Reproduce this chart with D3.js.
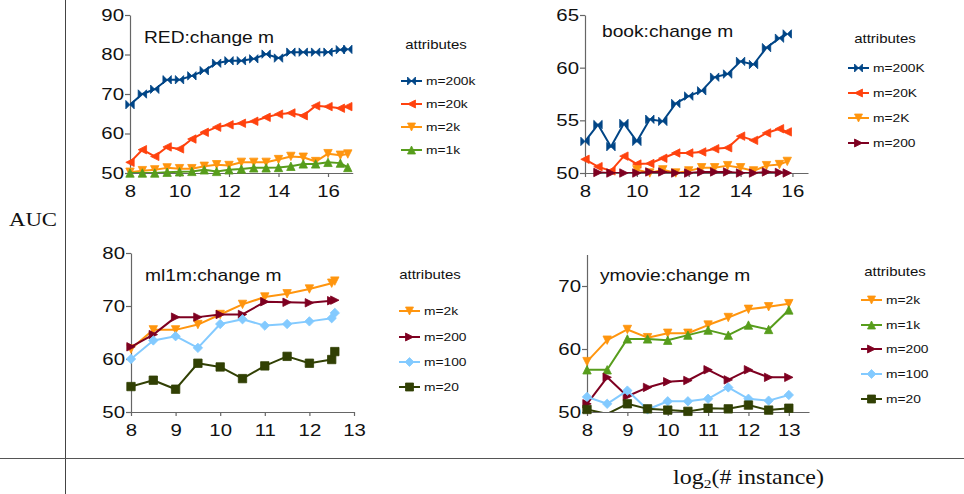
<!DOCTYPE html>
<html lang="en">
<head>
    <meta charset="UTF-8">
    <title>AUC change m</title>
    <script src="https://d3js.org/d3.v7.min.js"></script>
    <style>
    html, body { margin:0; padding:0; background:#fff; }
    .axis path, .axis line { stroke:#666; stroke-width:1.2; }
    .axis text { font-family:"Liberation Sans", Arial, sans-serif; font-size:17px; fill:#111; }
    .series { fill:none; stroke-width:2; stroke-linejoin:round; }
    </style>
</head>
<body>
<div id="chart"></div>
<script>

    // x positions (log2 # instance)
    var redX = [8, 8.5, 9, 9.5, 10, 10.5, 11, 11.5, 12, 12.5, 13, 13.5, 14, 14.5, 15, 15.5, 16, 16.5, 16.8];
    var bookX = [8, 8.5, 9, 9.5, 10, 10.5, 11, 11.5, 12, 12.5, 13, 13.5, 14, 14.5, 15, 15.5, 15.8];
    var ml1mX = [8, 8.5, 9, 9.5, 10, 10.5, 11, 11.5, 12, 12.5, 12.57];
    var ymovieX = [8, 8.5, 9, 9.5, 10, 10.5, 11, 11.5, 12, 12.5, 13];

    // RED
    var red200k = [67.3, 70.0, 71.2, 73.6, 73.6, 74.6, 75.9, 77.8, 78.4, 78.4, 78.9, 80.1, 79.1, 80.6, 80.6, 80.6, 80.6, 81.2, 81.3];
    var red20k  = [52.7, 55.9, 54.2, 56.6, 56.1, 58.6, 60.3, 61.6, 62.2, 62.6, 63.1, 64.1, 64.9, 65.2, 64.5, 67.0, 66.8, 66.4, 66.8];
    var red2k   = [50.2, 50.6, 50.8, 51.3, 51.1, 51.1, 51.7, 52.1, 51.9, 52.7, 52.7, 52.7, 53.4, 54.2, 54.0, 52.9, 54.9, 54.5, 54.8];
    var red1k   = [50.0, 50.0, 50.0, 50.2, 50.3, 50.4, 50.8, 50.4, 50.8, 51.0, 51.3, 51.3, 51.4, 51.7, 52.3, 52.3, 52.7, 52.5, 51.4];

    // book
    var book200K = [53.0, 54.6, 52.5, 54.7, 53.0, 55.1, 54.9, 56.6, 57.3, 57.8, 59.1, 59.4, 60.6, 60.3, 61.9, 62.8, 63.2];
    var book20K  = [51.3, 50.6, 50.2, 51.6, 50.85, 50.9, 51.4, 51.9, 51.9, 52.0, 52.3, 52.4, 53.5, 53.1, 53.8, 54.2, 53.9];
    var book2K   = [null, null, null, null, 50.3, 50.0, 50.3, 50.0, 50.2, 50.5, 50.5, 50.7, 50.5, 50.2, 50.7, 50.8, 51.1];
    var book200  = [null, 50.05, 50.0, 50.0, 50.0, 50.1, 50.1, 50.0, 50.0, 50.1, 50.1, 50.1, 50.0, 50.0, 50.1, 50.05, 50.0];

    // ml1m
    var ml2k  = [61.9, 65.5, 65.5, 66.5, 68.4, 70.3, 71.7, 72.3, 73.2, 74.3, 74.7];
    var ml200 = [62.3, 64.6, 67.9, 67.9, 68.4, 68.4, 70.8, 70.7, 70.6, 71.0, 71.1];
    var ml100 = [60.0, 63.5, 64.3, 62.1, 66.6, 67.5, 66.3, 66.6, 67.1, 67.7, 68.7];
    var ml20  = [54.8, 56.0, 54.3, 59.2, 58.5, 56.3, 58.7, 60.5, 59.2, 59.9, 61.4];

    // ymovie
    var ym2k  = [58.0, 61.4, 63.1, 61.8, 62.5, 62.5, 63.8, 65.0, 66.3, 66.7, 67.2];
    var ym1k  = [56.7, 56.7, 61.6, 61.6, 61.4, 62.2, 63.0, 62.2, 63.8, 63.1, 66.2];
    var ym200 = [51.3, 55.5, 52.5, 53.9, 54.8, 55.0, 56.7, 55.1, 56.7, 55.5, 55.5];
    var ym100 = [52.4, 51.3, 53.4, 50.4, 51.7, 51.7, 52.1, 53.9, 52.1, 51.8, 52.7];
    var ym20  = [50.4, 49.7, 51.3, 50.5, 50.3, 50.1, 50.6, 50.5, 51.1, 50.3, 50.6];

    var redTicks = [8, 10, 12, 14, 16], bookTicks = [8, 10, 12, 14, 16];
    var mlTicks = [8, 9, 10, 11, 12, 13], ymTicks = [8, 9, 10, 11, 12, 13];

    var width = 964, height = 494;
    var sx = 1.2;   // the source picture is stretched sideways

    var svg = d3.select("#chart").append("svg")
        .attr("width", width)
        .attr("height", height);

    // marker shapes
    function markerPath(type, r) {
        if (type === "bowtie") return "M" + (-r) + "," + (-r) + "L0,0L" + (-r) + "," + r + "ZM" + r + "," + (-r) + "L0,0L" + r + "," + r + "Z";
        if (type === "left") return "M" + (-r) + ",0L" + r + "," + (-r) + "L" + r + "," + r + "Z";
        if (type === "right") return "M" + r + ",0L" + (-r) + "," + (-r) + "L" + (-r) + "," + r + "Z";
        if (type === "down") return "M" + (-r) + "," + (-r) + "L" + r + "," + (-r) + "L0," + r + "Z";
        if (type === "up") return "M0," + (-r) + "L" + r + "," + r + "L" + (-r) + "," + r + "Z";
        if (type === "diamond") return "M0," + (-r - 0.5) + "L" + (r + 0.5) + ",0L0," + (r + 0.5) + "L" + (-r - 0.5) + ",0Z";
        return "M" + (-r) + "," + (-r) + "H" + r + "V" + r + "H" + (-r) + "Z";
    }

    function label(g, x, y, str, size, anchor, family) {
        return g.append("text")
            .attr("transform", "translate(" + x + "," + y + ") scale(" + sx + ",1)")
            .attr("dy", "0.35em")
            .attr("text-anchor", anchor || "start")
            .style("font-family", family || "'Liberation Sans', Arial, sans-serif")
            .style("font-size", size + "px")
            .style("fill", "#111")
            .text(str);
    }

    var panels = [
        {title: "RED:change m", tx: 144, ty: 37, xs: redX, xDom: [8, 17], xRange: [130, 352.75], xTicks: redTicks,
         yDom: [50, 90], yRange: [173, 15], yTicks: [50, 60, 70, 80, 90],
         legend: {tx: 436, ty: 45, lx: 401, rows: [81, 104, 127, 150]},
         series: [
             {name: "m=200k", values: red200k, color: "#004586", shape: "bowtie"},
             {name: "m=20k", values: red20k, color: "#ff420e", shape: "left"},
             {name: "m=2k", values: red2k, color: "#ff950e", shape: "down"},
             {name: "m=1k", values: red1k, color: "#579d1c", shape: "up"}
         ]},
        {title: "book:change m", tx: 602, ty: 31, xs: bookX, xDom: [8, 16.6], xRange: [585, 808], xTicks: bookTicks,
         yDom: [50, 65], yRange: [173, 15], yTicks: [50, 55, 60, 65],
         legend: {tx: 885, ty: 39, lx: 848, rows: [68, 93, 118, 143]},
         series: [
             {name: "m=200K", values: book200K, color: "#004586", shape: "bowtie"},
             {name: "m=20K", values: book20K, color: "#ff420e", shape: "left"},
             {name: "m=2K", values: book2K, color: "#ff950e", shape: "down"},
             {name: "m=200", values: book200, color: "#7e0021", shape: "right"}
         ]},
        {title: "ml1m:change m", tx: 145, ty: 275, xs: ml1mX, xDom: [8, 13], xRange: [131, 354], xTicks: mlTicks,
         yDom: [50, 80], yRange: [412, 253], yTicks: [50, 60, 70, 80],
         legend: {tx: 430, ty: 275, lx: 399, rows: [311, 337, 362, 387]},
         series: [
             {name: "m=2k", values: ml2k, color: "#ff950e", shape: "down"},
             {name: "m=200", values: ml200, color: "#7e0021", shape: "right"},
             {name: "m=100", values: ml100, color: "#83caff", shape: "diamond"},
             {name: "m=20", values: ml20, color: "#314004", shape: "square"}
         ]},
        {title: "ymovie:change m", tx: 600, ty: 275, xs: ymovieX, xDom: [8, 13.5], xRange: [587, 809], xTicks: ymTicks,
         yDom: [50, 75], yRange: [412, 254.5], yTicks: [50, 60, 70],
         legend: {tx: 895, ty: 272, lx: 861, rows: [300, 325, 349, 374, 399]},
         series: [
             {name: "m=2k", values: ym2k, color: "#ff950e", shape: "down"},
             {name: "m=1k", values: ym1k, color: "#579d1c", shape: "up"},
             {name: "m=200", values: ym200, color: "#7e0021", shape: "right"},
             {name: "m=100", values: ym100, color: "#83caff", shape: "diamond"},
             {name: "m=20", values: ym20, color: "#314004", shape: "square"}
         ]}
    ];

    // frame lines
    svg.append("line").attr("x1", 65.5).attr("x2", 65.5).attr("y1", 0).attr("y2", height)
        .attr("stroke", "#444").attr("stroke-width", 1);
    svg.append("line").attr("x1", 0).attr("x2", width).attr("y1", 458.5).attr("y2", 458.5)
        .attr("stroke", "#555").attr("stroke-width", 1.2);

    panels.forEach(function(p, pi) {
        var x = d3.scaleLinear().domain(p.xDom).range(p.xRange);
        var y = d3.scaleLinear().domain(p.yDom).range(p.yRange);
        var g = svg.append("g");

        // clip so values under the floor get cut at the axis
        var clipId = "clip" + pi;
        svg.append("clipPath").attr("id", clipId).append("rect")
            .attr("x", p.xRange[0]).attr("y", p.yRange[1] - 10)
            .attr("width", p.xRange[1] - p.xRange[0])
            .attr("height", p.yRange[0] - p.yRange[1] + 10);

        var yAxis = g.append("g").attr("class", "axis")
            .attr("transform", "translate(" + p.xRange[0] + ",0)")
            .call(d3.axisLeft(y).tickValues(p.yTicks).tickFormat(d3.format("d")).tickSize(5).tickSizeOuter(0));
        yAxis.selectAll("text").attr("x", -6 / sx).attr("transform", "scale(" + sx + ",1)");

        var xAxis = g.append("g").attr("class", "axis")
            .attr("transform", "translate(0," + p.yRange[0] + ")")
            .call(d3.axisBottom(x).tickValues(p.xTicks).tickFormat(d3.format("d")).tickSize(4).tickPadding(8).tickSizeOuter(0));
        xAxis.selectAll("text").attr("transform", "scale(" + sx + ",1)");

        label(g, p.tx, p.ty, p.title, 16, "start");

        var line = d3.line()
            .defined(function(d) { return d.v !== null; })
            .x(function(d) { return x(d.x); })
            .y(function(d) { return y(d.v); });

        p.series.forEach(function(s) {
            var pts = s.values.map(function(v, i) { return {x: p.xs[i], v: v}; });
            g.append("path")
                .datum(pts)
                .attr("class", "series")
                .attr("clip-path", "url(#" + clipId + ")")
                .attr("stroke", s.color)
                .attr("d", line);
            g.selectAll(null)
                .data(pts.filter(function(d) { return d.v !== null && d.v >= p.yDom[0]; }))
                .enter().append("path")
                .attr("transform", function(d) { return "translate(" + x(d.x) + "," + y(d.v) + ")"; })
                .attr("d", markerPath(s.shape, 4.2))
                .attr("fill", s.color)
                .attr("stroke", s.color)
                .attr("stroke-width", 0.8);
        });

        // legend
        var lg = svg.append("g");
        label(lg, p.legend.tx, p.legend.ty, "attributes", 12.5, "middle");
        p.series.forEach(function(s, i) {
            var ry = p.legend.rows[i];
            lg.append("line")
                .attr("x1", p.legend.lx).attr("x2", p.legend.lx + 21)
                .attr("y1", ry).attr("y2", ry)
                .attr("stroke", s.color).attr("stroke-width", 2);
            lg.append("path")
                .attr("transform", "translate(" + (p.legend.lx + 10.5) + "," + ry + ")")
                .attr("d", markerPath(s.shape, 4))
                .attr("fill", s.color).attr("stroke", s.color).attr("stroke-width", 0.8);
            label(lg, p.legend.lx + 25, ry, s.name, 11.5, "start");
        });
    });

    // shared axis titles
    label(svg, 33, 219, "AUC", 19, "middle", "'Liberation Serif', 'Times New Roman', serif");

    var xt = svg.append("text")
        .attr("transform", "translate(673,484) scale(" + sx + ",1)")
        .style("font-family", "'Liberation Serif', 'Times New Roman', serif")
        .style("font-size", "20px")
        .style("fill", "#111");
    xt.append("tspan").text("log");
    xt.append("tspan").attr("dy", 4).style("font-size", "13px").text("2");
    xt.append("tspan").attr("dy", -4).text("(# instance)");

</script>
</body>
</html>
